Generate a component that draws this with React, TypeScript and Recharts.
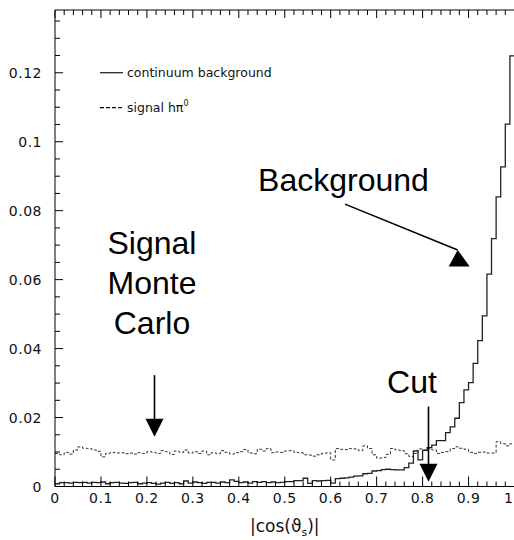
import { ComposedChart, Line, XAxis, YAxis, ReferenceLine, Label } from 'recharts';

// |cos(theta_s)| histograms, 100 bins of width 0.01
const binCount = 100;

const background = [
  0.0008, 0.0011, 0.0011, 0.0010, 0.0012, 0.0011, 0.0012, 0.0010, 0.0012, 0.0011,
  0.0013, 0.0008, 0.0011, 0.0012, 0.0010, 0.0009, 0.0011, 0.0012, 0.0008, 0.0010,
  0.0011, 0.0009, 0.0007, 0.0010, 0.0012, 0.0009, 0.0011, 0.0008, 0.0016, 0.0010,
  0.0013, 0.0011, 0.0009, 0.0012, 0.0012, 0.0010, 0.0013, 0.0011, 0.0019, 0.0015,
  0.0011, 0.0013, 0.0010, 0.0014, 0.0012, 0.0014, 0.0011, 0.0013, 0.0011, 0.0012,
  0.0014, 0.0014, 0.0017, 0.0017, 0.0024, 0.0009, 0.0017, 0.0016, 0.0017, 0.0018,
  0.0010, 0.0023, 0.0024, 0.0025, 0.0027, 0.0030, 0.0031, 0.0037, 0.0038, 0.0045,
  0.0046, 0.0049, 0.0050, 0.0049, 0.0048, 0.0048, 0.0055, 0.0068, 0.0103, 0.0077,
  0.0105, 0.0113, 0.0120, 0.0133, 0.0133, 0.0156, 0.0173, 0.0198, 0.0243, 0.0280,
  0.0301, 0.0357, 0.0423, 0.0495, 0.0616, 0.0719, 0.0840, 0.0927, 0.1051, 0.1249,
];

const signal = [
  0.0096, 0.0092, 0.0099, 0.0094, 0.0106, 0.0115, 0.0111, 0.0110, 0.0106, 0.0102,
  0.0086, 0.0096, 0.0099, 0.0097, 0.0098, 0.0095, 0.0097, 0.0094, 0.0098, 0.0096,
  0.0101, 0.0099, 0.0096, 0.0104, 0.0101, 0.0093, 0.0103, 0.0099, 0.0106, 0.0097,
  0.0101, 0.0096, 0.0103, 0.0092, 0.0098, 0.0095, 0.0104, 0.0099, 0.0094, 0.0098,
  0.0101, 0.0107, 0.0097, 0.0095, 0.0108, 0.0103, 0.0110, 0.0098, 0.0100, 0.0099,
  0.0103, 0.0104, 0.0099, 0.0098, 0.0092, 0.0091, 0.0088, 0.0092, 0.0096, 0.0098,
  0.0077, 0.0110, 0.0108, 0.0107, 0.0110, 0.0109, 0.0104, 0.0118, 0.0110, 0.0092,
  0.0082, 0.0084, 0.0093, 0.0110, 0.0106, 0.0104, 0.0095, 0.0087, 0.0096, 0.0109,
  0.0106, 0.0110, 0.0106, 0.0096, 0.0099, 0.0101, 0.0110, 0.0115, 0.0111, 0.0108,
  0.0099, 0.0096, 0.0099, 0.0100, 0.0097, 0.0097, 0.0130, 0.0124, 0.0118, 0.0124,
];

const xMajorValues = [0, 0.1, 0.2, 0.3, 0.4, 0.5, 0.6, 0.7, 0.8, 0.9, 1];
const xTickLabels = ['0', '0.1', '0.2', '0.3', '0.4', '0.5', '0.6', '0.7', '0.8', '0.9', '1'];
const yMajorValues = [0, 0.02, 0.04, 0.06, 0.08, 0.1, 0.12];
const yTickLabels = ['0', '0.02', '0.04', '0.06', '0.08', '0.1', '0.12'];

const xTicks = Array.from({ length: 51 }, (_, i) => i * 0.02);
const yTicks = Array.from({ length: 28 }, (_, i) => i * 0.005);
const yMax = 0.1382;

// step rows at bin edges, last edge repeats the final bin so the step closes at x = 1
const rows = Array.from({ length: binCount + 1 }, (_, i) => ({
  x: i / binCount,
  bg: background[Math.min(i, binCount - 1)],
  sig: signal[Math.min(i, binCount - 1)],
}));

const tickFont = { fontFamily: 'DejaVu Sans', fontSize: 14, letterSpacing: 0.5, fill: '#111' };
const bigFont = { fontFamily: 'Liberation Sans, Arial', fontSize: 32, fill: '#000' };

const findMajor = (list: number[], v: number) => list.findIndex((t) => Math.abs(t - v) < 1e-6);

const BottomTick = (props: any) => {
  const { x, y, payload } = props;
  const idx = findMajor(xMajorValues, payload.value);
  const last = idx === xMajorValues.length - 1;
  return (
    <g>
      <line x1={x} y1={y} x2={x} y2={y - (idx >= 0 ? 10 : 5)} stroke="#000" />
      {idx >= 0 && (
        <text x={last ? x - 1 : x} y={y + 16} textAnchor={last ? 'end' : 'middle'} {...tickFont}>
          {xTickLabels[idx]}
        </text>
      )}
    </g>
  );
};

const TopTick = (props: any) => {
  const { x, y, payload } = props;
  const major = findMajor(xMajorValues, payload.value) >= 0;
  return <line x1={x} y1={y} x2={x} y2={y + (major ? 8 : 5)} stroke="#000" />;
};

const LeftTick = (props: any) => {
  const { x, y, payload } = props;
  const idx = findMajor(yMajorValues, payload.value);
  return (
    <g>
      <line x1={x} y1={y} x2={x + (idx >= 0 ? 8 : 5)} y2={y} stroke="#000" />
      {idx >= 0 && (
        <text x={x - 13} y={y + 5} textAnchor="end" {...tickFont}>
          {yTickLabels[idx]}
        </text>
      )}
    </g>
  );
};

const RightTick = (props: any) => {
  const { x, y, payload } = props;
  const major = findMajor(yMajorValues, payload.value) >= 0;
  return <line x1={x} y1={y} x2={x - (major ? 8 : 5)} y2={y} stroke="#000" />;
};

const XTitle = (props: any) => {
  const { x, y, width } = props.viewBox;
  return (
    <text x={x + width / 2} y={y + 45} textAnchor="middle" fontFamily="DejaVu Sans" fontSize={17} fill="#111">
      |cos(ϑ
      <tspan fontSize={11} dy={4}>s</tspan>
      <tspan dy={-4}>)|</tspan>
    </text>
  );
};

const legendShape = (label: string, dashed: boolean) => (p: any) => (
  <g>
    <line x1={p.x1} y1={p.y1} x2={p.x2} y2={p.y2} stroke="#000" strokeWidth={1.1} strokeDasharray={dashed ? '4 2' : undefined} />
    <text x={p.x2 + 4} y={p.y2 + 4} fontFamily="DejaVu Sans" fontSize={12.5} fill="#111">
      {label}
      {dashed && (
        <tspan fontSize={8} dy={-6}>0</tspan>
      )}
    </text>
  </g>
);

const downArrow = (lines: string[], textDx: number, lineGap: number, textDy: number) => (p: any) => (
  <g>
    <line x1={p.x1} y1={p.y1} x2={p.x2} y2={p.y2 - 12} stroke="#000" strokeWidth={1.6} />
    <polygon points={`${p.x2 - 9},${p.y2 - 18} ${p.x2 + 9},${p.y2 - 18} ${p.x2},${p.y2}`} fill="#000" />
    {lines.map((t, i) => (
      <text key={t} x={p.x1 + textDx} y={p.y1 + textDy - (lines.length - 1 - i) * lineGap} textAnchor="middle" {...bigFont}>
        {t}
      </text>
    ))}
  </g>
);

const backgroundArrow = (p: any) => (
  <g>
    <line x1={p.x1} y1={p.y1} x2={p.x2} y2={p.y2} stroke="#000" strokeWidth={1.6} />
    <polygon points={`${p.x2},${p.y2} ${p.x2 - 9},${p.y2 + 16.5} ${p.x2 + 12},${p.y2 + 16.5}`} fill="#000" />
    <text x={p.x1 - 1.5} y={p.y1 - 13} textAnchor="middle" {...bigFont}>
      Background
    </text>
  </g>
);

export default function App() {
  return (
    <div style={{ position: 'absolute', left: 0, top: 0, width: 514, height: 540, overflow: 'hidden', background: '#fff' }}>
      <ComposedChart width={516} height={540} data={rows} margin={{ top: 9, right: 1.5, bottom: 23.5, left: 0 }}>
        <XAxis
          xAxisId="b"
          dataKey="x"
          type="number"
          domain={[0, 1]}
          ticks={xTicks}
          interval={0}
          tickSize={0}
          tickMargin={0}
          tickLine={false}
          axisLine={{ stroke: '#000' }}
          height={30}
          tick={BottomTick}
          allowDataOverflow
        >
          <Label content={XTitle} />
        </XAxis>
        <XAxis
          xAxisId="t"
          orientation="top"
          dataKey="x"
          type="number"
          domain={[0, 1]}
          ticks={xTicks}
          interval={0}
          tickSize={0}
          tickMargin={0}
          tickLine={false}
          axisLine={{ stroke: '#000' }}
          height={1}
          tick={TopTick}
        />
        <YAxis
          yAxisId="l"
          type="number"
          domain={[0, yMax]}
          ticks={yTicks}
          interval={0}
          tickSize={0}
          tickMargin={0}
          tickLine={false}
          axisLine={{ stroke: '#000' }}
          width={55}
          tick={LeftTick}
          allowDataOverflow
        />
        <YAxis
          yAxisId="r"
          orientation="right"
          type="number"
          domain={[0, yMax]}
          ticks={yTicks}
          interval={0}
          tickSize={0}
          tickMargin={0}
          tickLine={false}
          axisLine={{ stroke: '#000' }}
          width={0}
          tick={RightTick}
        />

        <Line
          xAxisId="b"
          yAxisId="l"
          type="stepAfter"
          dataKey="sig"
          stroke="#333"
          strokeWidth={1}
          strokeDasharray="3 2"
          dot={false}
          isAnimationActive={false}
        />
        <Line
          xAxisId="b"
          yAxisId="l"
          type="stepAfter"
          dataKey="bg"
          stroke="#222"
          strokeWidth={1.3}
          dot={false}
          isAnimationActive={false}
        />

        {/* legend */}
        <ReferenceLine xAxisId="b" yAxisId="l" segment={[{ x: 0.098, y: 0.12 }, { x: 0.148, y: 0.12 }]} shape={legendShape('continuum background', false)} />
        <ReferenceLine xAxisId="b" yAxisId="l" segment={[{ x: 0.098, y: 0.1099 }, { x: 0.148, y: 0.1099 }]} shape={legendShape('signal hπ', true)} />

        {/* annotations */}
        <ReferenceLine xAxisId="b" yAxisId="l" segment={[{ x: 0.6311, y: 0.0819 }, { x: 0.8764, y: 0.0686 }]} shape={backgroundArrow} />
        <ReferenceLine
          xAxisId="b"
          yAxisId="l"
          segment={[{ x: 0.2165, y: 0.0323 }, { x: 0.2165, y: 0.0144 }]}
          shape={downArrow(['Signal', 'Monte', 'Carlo'], -2.5, 40, -41)}
        />
        <ReferenceLine
          xAxisId="b"
          yAxisId="l"
          segment={[{ x: 0.8128, y: 0.0232 }, { x: 0.8128, y: 0.0014 }]}
          shape={downArrow(['Cut'], -16.5, 40, -14)}
        />
      </ComposedChart>
    </div>
  );
}
